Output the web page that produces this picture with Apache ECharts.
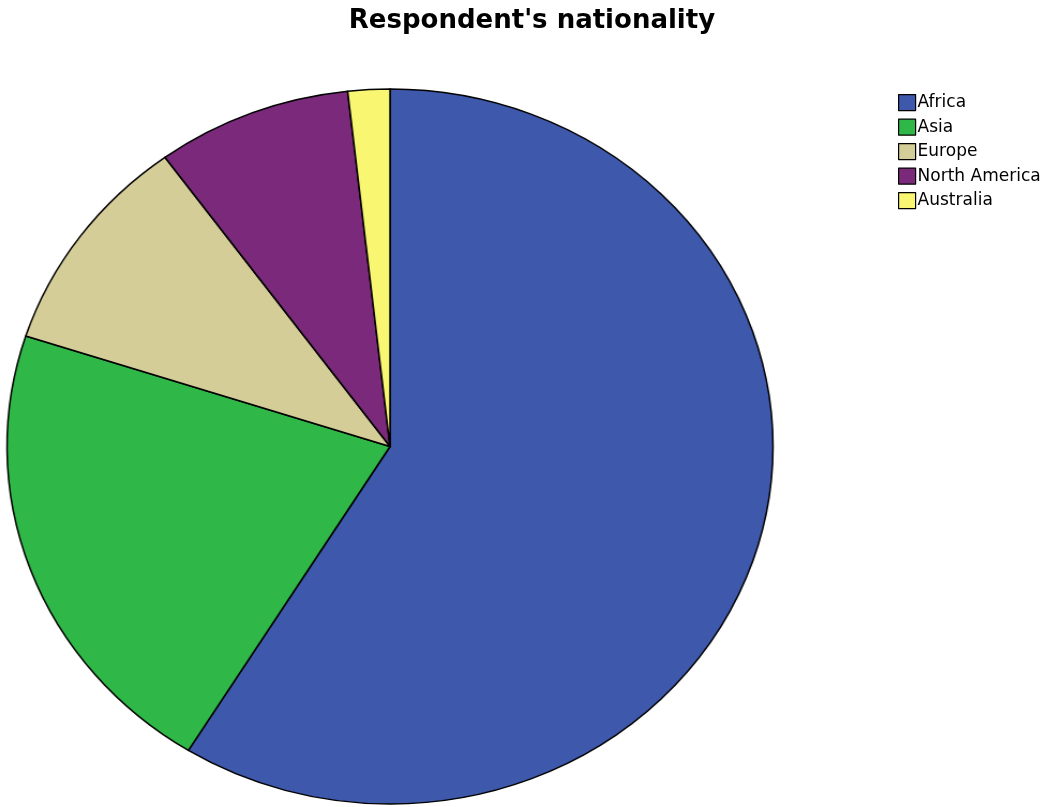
<!DOCTYPE html>
<html>
<head>
<meta charset="utf-8">
<script src="https://cdn.jsdelivr.net/npm/echarts@6/dist/echarts.min.js"></script>
<style>
  html, body { margin: 0; padding: 0; background: #fff; }
  #wrap { position: relative; width: 1052px; height: 807px; overflow: hidden; }
  #pie, #over { position: absolute; left: 0; top: 0; width: 1052px; height: 807px; }
  #pie { transform-origin: 390px 446.5px; transform: scaleX(1.0713); }
  #over { pointer-events: none; }
</style>
</head>
<body>
<div id="wrap">
  <div id="pie"></div>
  <div id="over"></div>
</div>
<script>
const categories = ['Africa', 'Asia', 'Europe', 'North America', 'Australia'];
const counts = [100, 36, 17, 14, 3];
const colors = ['#3e58ac', '#2fb847', '#d4cd98', '#7b2a7b', '#f9f672'];
const titleText = "Respondent's nationality";

const data = categories.map((n, i) => ({ name: n, value: counts[i], itemStyle: { color: colors[i] } }));

const pie = echarts.init(document.getElementById('pie'), null, { renderer: 'canvas' });
pie.setOption({
  animation: false,
  series: [{
    type: 'pie',
    center: [390, 446.5],
    radius: 357.5,
    startAngle: 90,
    clockwise: true,
    label: { show: false },
    labelLine: { show: false },
    emphasis: { disabled: true },
    itemStyle: { borderColor: '#000', borderWidth: 1.5 },
    data: data
  }]
});

const over = echarts.init(document.getElementById('over'), null, { renderer: 'canvas' });
over.setOption({
  animation: false,
  title: {
    text: titleText,
    left: 527,
    textAlign: 'center',
    top: 3,
    textStyle: { fontFamily: 'DejaVu Sans, sans-serif', fontWeight: 'bold', fontSize: 26, color: '#000' }
  },
  legend: {
    orient: 'vertical',
    left: 893,
    top: 89,
    icon: 'rect',
    itemWidth: 17,
    itemHeight: 16,
    itemGap: 7.3,
    selectedMode: false,
    itemStyle: { borderColor: '#000', borderWidth: 1.2 },
    textStyle: { fontFamily: 'DejaVu Sans, sans-serif', fontSize: 17, lineHeight: 16, color: '#000', padding: [0, 0, 0, -3] },
    data: categories
  },
  series: [{
    type: 'pie',
    center: [-100, -100],
    radius: 0,
    silent: true,
    label: { show: false },
    labelLine: { show: false },
    data: data
  }]
});
</script>
</body>
</html>
